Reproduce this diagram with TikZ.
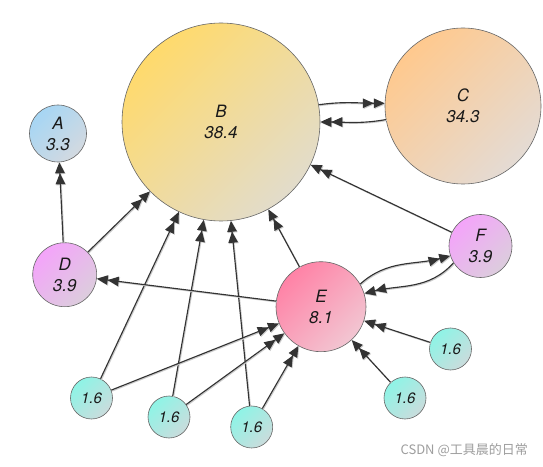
\documentclass[tikz,border=0pt]{standalone}
\usepackage{fontspec}
\setmainfont{TeX Gyre Heros}
\newfontfamily\cjkfont{Noto Sans CJK SC}
\usetikzlibrary{arrows.meta}
\definecolor{edgec}{HTML}{333333}
\definecolor{Bt}{HTML}{FFDA6C}\definecolor{Bb}{HTML}{E2DCCB}
\definecolor{Ct}{HTML}{FFC98E}\definecolor{Cb}{HTML}{E4DBD4}
\definecolor{At}{HTML}{A6D6F4}\definecolor{Ab}{HTML}{D3D9E0}
\definecolor{Dt}{HTML}{F4A4FA}\definecolor{Db}{HTML}{DCCDDD}
\definecolor{Et}{HTML}{FF82A6}\definecolor{Eb}{HTML}{F2C6D2}
\definecolor{St}{HTML}{8EF4E6}\definecolor{Sb}{HTML}{CADCDC}
\begin{document}
\begin{tikzpicture}[x=1pt,y=1pt,
  pr/.style={circle, draw=black!60, line width=0.6pt, inner sep=0pt, align=center,
    font=\fontsize{17}{21}\selectfont\itshape, text=black!90},
  small/.style={pr, minimum size=42pt, top color=St, bottom color=Sb, shading angle=45,
    font=\fontsize{15}{18}\selectfont\itshape},
  arr/.style={draw=edgec, line width=1.15pt,
    -{Triangle[length=11pt,width=9.5pt]Triangle[length=11pt,width=9.5pt]},
    preaction={draw=black!20, line width=1.1pt, transform canvas={shift={(0.9pt,-0.9pt)}}}},
]
\useasboundingbox (0,0) rectangle (543,466);
\fill[white] (0,0) rectangle (543,466);
% nodes
\node[pr, minimum size=198pt, top color=Bt, bottom color=Bb, shading angle=45] (B) at (221,344) {B\\38.4};
\node[pr, minimum size=156pt, top color=Ct, bottom color=Cb, shading angle=45] (C) at (463,360) {C\\34.3};
\node[pr, minimum size=57pt, top color=At, bottom color=Ab, shading angle=45] (A) at (58,332.5) {A\\3.3};
\node[pr, minimum size=64pt, top color=Dt, bottom color=Db, shading angle=45] (D) at (64.7,191.3) {D\\3.9};
\node[pr, minimum size=63pt, top color=Dt, bottom color=Db, shading angle=45] (F) at (480.5,220) {F\\3.9};
\node[pr, minimum size=90pt, top color=Et, bottom color=Eb, shading angle=45] (E) at (321,159.3) {E\\8.1};
\node[small] (n1) at (91.5,68) {1.6};
\node[small] (n2) at (169,49) {1.6};
\node[small] (n3) at (251.7,39) {1.6};
\node[small] (n4) at (405,68) {1.6};
\node[small] (n5) at (450.5,117) {1.6};
% edges
\draw[arr] (D) -- (A);
\draw[arr] (D) -- (B);
\draw[arr] (n1) -- (B);
\draw[arr] (n2) -- (B);
\draw[arr] (n3) -- (B);
\draw[arr] (E) -- (B);
\draw[arr] (F) -- (B);
\draw[arr] (E) -- (D);
\draw[arr] (B.10) to[out=8,in=180] (C.178);
\draw[arr] (C.190) to[out=190,in=0] (B.0);
\draw[arr] (E.30) to[out=42,in=195] (F.198);
\draw[arr] (F.212) to[out=228,in=14] (E.17);
\draw[arr] (n1) -- (E);
\draw[arr] (n2) -- (E);
\draw[arr] (n3) -- (E);
\draw[arr] (n4) -- (E);
\draw[arr] (n5) -- (E);
% watermark
\node[font=\cjkfont\fontsize{13}{15}\selectfont, text=black!38, anchor=east, inner sep=0pt] (wm) at (528,16) {CSDN @工具晨的日常};
\end{tikzpicture}
\end{document}
